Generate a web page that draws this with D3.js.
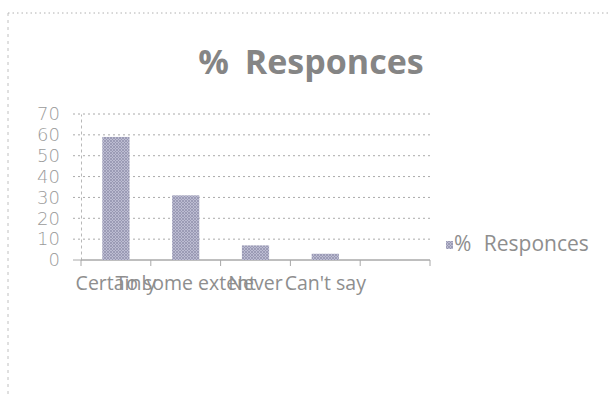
<!DOCTYPE html>
<html>
<head>
<meta charset="utf-8">
<script src="https://cdn.jsdelivr.net/npm/d3@7"></script>
<style>
  body { margin: 0; background: #fff; }
  svg { display: block; }
</style>
</head>
<body>
<div id="chart"></div>
<script>
var categories = ["Certainly", "To some extent", "Never", "Can't say"];
var values = [59, 31, 7, 3];
var yTicks = [0, 10, 20, 30, 40, 50, 60, 70];
var seriesName = "% Responces";

var w = 608, h = 394;
var plotLeft = 81, plotRight = 430, plotTop = 114, plotBottom = 260;

var svg = d3.select("#chart").append("svg")
  .attr("width", w)
  .attr("height", h);

// hatch pattern for the bars
var defs = svg.append("defs");
var pat = defs.append("pattern")
  .attr("id", "hatch")
  .attr("patternUnits", "userSpaceOnUse")
  .attr("width", 3)
  .attr("height", 3);
pat.append("rect").attr("width", 3).attr("height", 3).attr("fill", "#bcbcd2");
pat.append("path").attr("d", "M0,3 L3,0 M0,0 L3,3").attr("stroke", "#9494ae").attr("stroke-width", 0.8);

// dotted frame of the chart area
svg.append("line")
  .attr("x1", 8).attr("x2", w).attr("y1", 13).attr("y2", 13)
  .attr("stroke", "#b0b0b0").attr("stroke-dasharray", "1.5,3");
svg.append("line")
  .attr("x1", 8).attr("x2", 8).attr("y1", 13).attr("y2", h)
  .attr("stroke", "#c0c0c0").attr("stroke-dasharray", "3,4");

// 4 categories plus one empty slot on the right, like the original
var slots = categories.concat([""]);
var x = d3.scaleBand()
  .domain(slots)
  .range([plotLeft, plotRight])
  .paddingInner(0.61)
  .paddingOuter(0.305);

var xTicks = d3.scaleBand().domain(slots).range([plotLeft, plotRight]);

var y = d3.scaleLinear()
  .domain([0, 70])
  .range([plotBottom, plotTop]);

// gridlines
svg.append("g")
  .selectAll("line")
  .data(yTicks)
  .join("line")
  .attr("x1", plotLeft - 8)
  .attr("x2", plotRight)
  .attr("y1", function(d) { return y(d); })
  .attr("y2", function(d) { return y(d); })
  .attr("stroke", "#aaaaaa")
  .attr("stroke-width", 1)
  .attr("stroke-dasharray", function(d) { return d == 0 ? null : "2,3"; });

// y axis
var yAxis = svg.append("g")
  .attr("transform", "translate(" + plotLeft + ",0)")
  .call(d3.axisLeft(y).tickValues(yTicks).tickSize(0).tickPadding(21));
yAxis.select(".domain").attr("stroke", "#b8b8b8").attr("stroke-dasharray", "3,3");
yAxis.selectAll("text")
  .attr("fill", "#9a9a9a")
  .style("font-family", "DejaVu Sans")
  .style("font-size", "18px")
  .style("font-weight", "200");

// x axis
var xAxis = svg.append("g")
  .attr("transform", "translate(0," + plotBottom + ")");
xAxis.append("line")
  .attr("x1", plotLeft).attr("x2", plotRight)
  .attr("stroke", "#a8a8a8");
xAxis.selectAll(".tk")
  .data(slots.concat(["end"]))
  .join("line")
  .attr("class", "tk")
  .attr("x1", function(d, i) { return plotLeft + i * xTicks.bandwidth(); })
  .attr("x2", function(d, i) { return plotLeft + i * xTicks.bandwidth(); })
  .attr("y1", 0).attr("y2", 6)
  .attr("stroke", "#a8a8a8");
xAxis.selectAll(".cl")
  .data(categories)
  .join("text")
  .attr("class", "cl")
  .attr("x", function(d) { return x(d) + x.bandwidth() / 2; })
  .attr("y", 30)
  .attr("text-anchor", "middle")
  .attr("fill", "#8e8e8e")
  .style("font-family", "Open Sans")
  .style("font-size", "19.5px")
  .text(function(d) { return d; });

// bars
svg.append("g")
  .selectAll("rect")
  .data(values)
  .join("rect")
  .attr("x", function(d, i) { return x(categories[i]); })
  .attr("y", function(d) { return y(d); })
  .attr("width", x.bandwidth())
  .attr("height", function(d) { return y(0) - y(d); })
  .attr("fill", "url(#hatch)");

// title
svg.append("text")
  .attr("x", 311)
  .attr("y", 74)
  .attr("text-anchor", "middle")
  .attr("fill", "#858585")
  .style("font-family", "Open Sans")
  .style("font-weight", "bold")
  .style("font-size", "34px")
  .style("word-spacing", "7px")
  .text(seriesName);

// legend
var lg = svg.append("g").attr("transform", "translate(446,241)");
lg.append("rect").attr("width", 7).attr("height", 8).attr("fill", "url(#hatch)");
lg.append("text")
  .attr("x", 8)
  .attr("y", 10)
  .attr("fill", "#8e8e8e")
  .style("font-family", "Open Sans")
  .style("font-size", "21px")
  .style("word-spacing", "7px")
  .text(seriesName);
</script>
</body>
</html>
